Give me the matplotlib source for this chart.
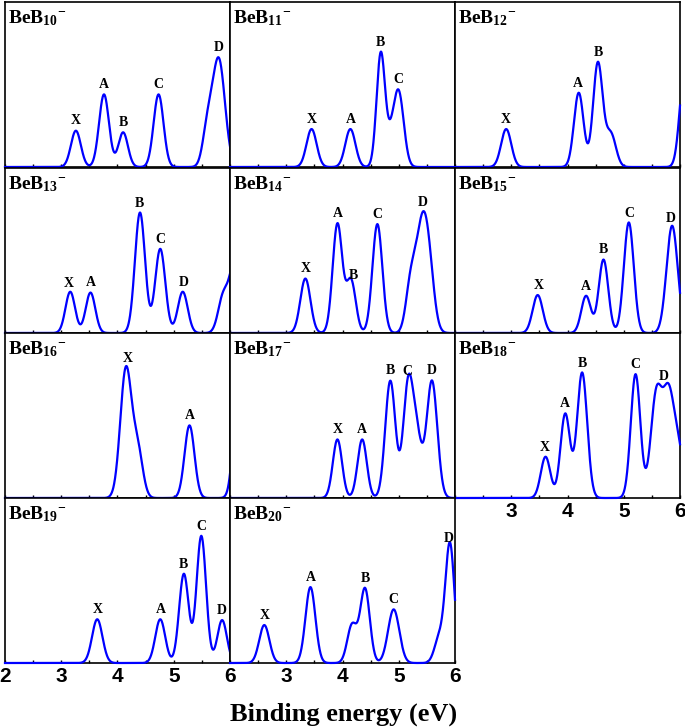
import numpy as np
import matplotlib.pyplot as plt

plt.rcParams['mathtext.fontset'] = 'custom'
plt.rcParams['mathtext.rm'] = 'Liberation Serif:bold'
plt.rcParams['mathtext.it'] = 'Liberation Serif:bold'
plt.rcParams['mathtext.bf'] = 'Liberation Serif:bold'

# simulated PES: gaussian bands (VDE eV, relative height, width eV)
b10_e = [3.26, 3.76, 4.10, 4.73, 5.60, 5.80]
b10_h = [0.22, 0.44, 0.21, 0.44, 0.22, 0.65]
b10_w = [0.088, 0.088, 0.085, 0.088, 0.085, 0.11]

b11_e = [3.45, 4.14, 4.68, 4.85, 5.00]
b11_h = [0.23, 0.23, 0.68, 0.13, 0.44]
b11_w = [0.09, 0.09, 0.075, 0.085, 0.09]

b12_e = [2.91, 4.20, 4.54, 4.77, 6.08]
b12_h = [0.23, 0.45, 0.63, 0.20, 0.58]
b12_w = [0.09, 0.085, 0.085, 0.09, 0.085]

b13_e = [3.16, 3.52, 4.40, 4.76, 5.16, 5.88, 6.08]
b13_h = [0.25, 0.245, 0.73, 0.51, 0.25, 0.22, 0.40]
b13_w = [0.085, 0.085, 0.09, 0.09, 0.088, 0.09, 0.09]

b14_e = [3.34, 3.91, 4.15, 4.62, 5.21, 5.43, 5.56]
b14_h = [0.33, 0.66, 0.32, 0.66, 0.26, 0.69, 0.12]
b14_w = [0.09, 0.085, 0.085, 0.088, 0.085, 0.12, 0.085]

b15_e = [3.47, 4.33, 4.64, 5.09, 5.86]
b15_h = [0.23, 0.225, 0.445, 0.67, 0.65]
b15_w = [0.09, 0.085, 0.085, 0.088, 0.10]

b16_e = [4.15, 4.36, 5.28, 6.15]
b16_h = [0.78, 0.28, 0.44, 0.70]
b16_w = [0.10, 0.09, 0.088, 0.085]

b17_e = [3.91, 4.35, 4.85, 5.17, 5.33, 5.59]
b17_h = [0.355, 0.355, 0.71, 0.69, 0.31, 0.71]
b17_w = [0.082, 0.082, 0.09, 0.09, 0.085, 0.095]

b18_e = [3.61, 3.96, 4.26, 5.21, 5.58, 5.80, 5.98]
b18_h = [0.25, 0.51, 0.76, 0.75, 0.62, 0.61, 0.25]
b18_w = [0.085, 0.085, 0.09, 0.085, 0.10, 0.10, 0.085]

b19_e = [3.64, 4.76, 5.18, 5.49, 5.86]
b19_h = [0.265, 0.265, 0.54, 0.77, 0.26]
b19_w = [0.092, 0.088, 0.085, 0.085, 0.085]

b20_e = [2.61, 3.43, 4.17, 4.40, 4.91, 5.72, 5.91]
b20_h = [0.23, 0.46, 0.23, 0.45, 0.325, 0.15, 0.72]
b20_w = [0.09, 0.088, 0.085, 0.085, 0.10, 0.085, 0.08]

# peak letters and where they sit
lab5 = ['X', 'A', 'B', 'C', 'D']
b10_lab = [3.26, 3.76, 4.10, 4.73, 5.80]
b11_lab = [3.45, 4.14, 4.68, 4.99]
b12_lab = [2.91, 4.19, 4.55]
b13_lab = [3.14, 3.52, 4.39, 4.76, 5.17]
b14_lab = [3.34, 3.91, 4.19, 4.62, 5.42]
b15_lab = [3.48, 4.32, 4.64, 5.10, 5.84]
b16_lab = [4.18, 5.28]
b17_lab = [3.91, 4.35, 4.85, 5.15, 5.59]
b18_lab = [3.60, 3.96, 4.27, 5.21, 5.71]
b19_lab = [3.64, 4.77, 5.17, 5.50, 5.86]
b20_lab = [2.61, 3.44, 4.41, 4.91, 5.88]

sizes = ['10', '11', '12', '13', '14', '15', '16', '17', '18', '19', '20']
bands = [(b10_e, b10_h, b10_w), (b11_e, b11_h, b11_w), (b12_e, b12_h, b12_w),
         (b13_e, b13_h, b13_w), (b14_e, b14_h, b14_w), (b15_e, b15_h, b15_w),
         (b16_e, b16_h, b16_w), (b17_e, b17_h, b17_w), (b18_e, b18_h, b18_w),
         (b19_e, b19_h, b19_w), (b20_e, b20_h, b20_w)]
peaks = [b10_lab, b11_lab, b12_lab, b13_lab, b14_lab, b15_lab,
         b16_lab, b17_lab, b18_lab, b19_lab, b20_lab]

tick_pos = [2, 2.5, 3, 3.5, 4, 4.5, 5, 5.5, 6]
tick_full = ['2', '', '3', '', '4', '', '5', '', '6']
tick_no2 = ['', '', '3', '', '4', '', '5', '', '6']

W, H = 685, 728
fig = plt.figure(figsize=(W / 100, H / 100), dpi=100)

col_left = [5, 230, 455]
row_top = [2, 168, 333, 498]
pw, ph = 225, 165

E = np.linspace(2, 6, 1201)

for i, s in enumerate(sizes):
    r, c = divmod(i, 3)
    ax = fig.add_axes([col_left[c] / W, 1 - (row_top[r] + ph) / H, pw / W, ph / H])
    e0, h0, w0 = bands[i]
    y = np.zeros_like(E)
    for e, h, w in zip(e0, h0, w0):
        y += h * np.exp(-(E - e) ** 2 / (2 * w ** 2))
    ax.plot(E, y, color='#0000ff', lw=1.6, clip_on=False, zorder=3)
    ax.set_xlim(2, 6)
    ax.set_ylim(0, 1)
    ax.set_yticks([])
    for sp in ax.spines.values():
        sp.set_linewidth(1.2)
    ax.set_xticks(tick_pos)
    if s == '19':
        ax.set_xticklabels(tick_full)
    elif s in ('18', '20'):
        ax.set_xticklabels(tick_no2)
    else:
        ax.set_xticklabels([])
    ax.tick_params(axis='x', direction='in', length=2.5, width=1, pad=3,
                   labelsize=15)
    for t in ax.get_xticklabels():
        t.set_family('Liberation Sans')
        t.set_fontweight('bold')

    ax.text(0.013, 0.873, r'$\mathrm{BeB}_{%s}{}^{-}$' % s, transform=ax.transAxes,
            fontsize=14, va='baseline', ha='left')
    for name, xe in zip(lab5, peaks[i]):
        ax.annotate(name, (xe, np.interp(xe, E, y)), xytext=(0, 4.5),
                    textcoords='offset points', ha='center', va='baseline',
                    fontsize=10, family='Liberation Serif', fontweight='bold')

fig.text(344 / W, 1 - 721 / H, 'Binding energy (eV)', ha='center', va='baseline',
         fontsize=19, family='Liberation Serif', fontweight='bold')

fig.savefig('out.png', dpi=100)
